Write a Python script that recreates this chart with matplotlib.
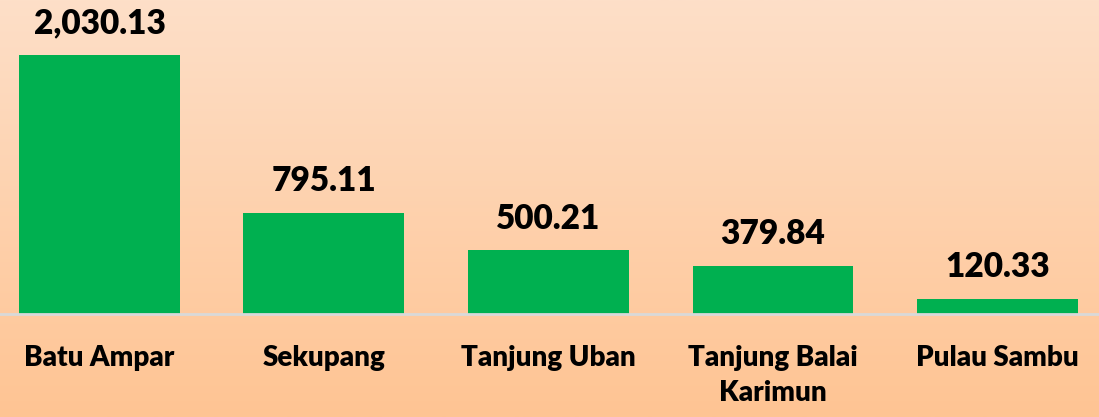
import numpy as np
import matplotlib.pyplot as plt
from matplotlib.colors import LinearSegmentedColormap

ports = ["Batu Ampar", "Sekupang", "Tanjung Uban", "Tanjung Balai\nKarimun", "Pulau Sambu"]
values = [2030.13, 795.11, 500.21, 379.84, 120.33]
value_labels = ["2,030.13", "795.11", "500.21", "379.84", "120.33"]

plt.rcParams['font.family'] = ['Lato', 'DejaVu Sans']

fig = plt.figure(figsize=(10.99, 4.17), dpi=100)

# peach gradient behind everything
bg = fig.add_axes([0, 0, 1, 1], zorder=0)
grad = np.linspace(0, 1, 256).reshape(-1, 1)
cmap = LinearSegmentedColormap.from_list("peach", ["#fddfc8", "#ffc493"])
bg.imshow(grad, aspect='auto', cmap=cmap, extent=[0, 1, 0, 1], origin='upper')
bg.axis('off')

ax = fig.add_axes([0, 0.247, 1, 0.753], zorder=1)
ax.patch.set_alpha(0)
x = np.arange(len(ports))
ax.bar(x, values, width=0.717, color="#00b050", zorder=2)
ax.set_xlim(-0.443, 4.452)
ax.set_ylim(0, 2461)

for xi, v, lab in zip(x, values, value_labels):
    ax.annotate(lab, (xi, v), xytext=(0, 11), textcoords='offset points',
                ha='center', va='bottom', fontsize=24, fontweight='heavy', color='black')

ax.set_xticks(x)
ax.set_xticklabels(ports, fontsize=20, fontweight='heavy', linespacing=1.45)
ax.tick_params(axis='x', length=0, pad=22)
ax.set_yticks([])
for s in ['top', 'right', 'left']:
    ax.spines[s].set_visible(False)
ax.spines['bottom'].set_color('#d9d9d9')
ax.spines['bottom'].set_linewidth(2)
ax.spines['bottom'].set_zorder(3)

fig.savefig("out.png", dpi=100)
